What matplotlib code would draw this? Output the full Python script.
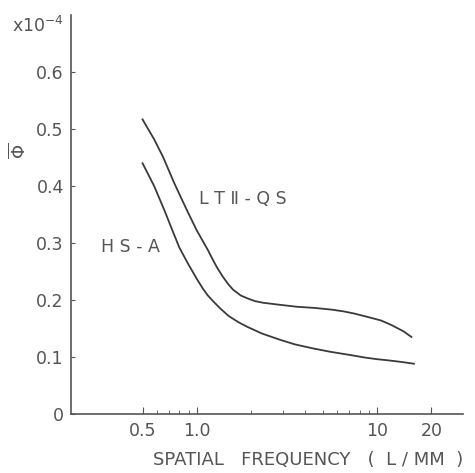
import matplotlib
matplotlib.use("Agg")
import matplotlib.pyplot as plt
from matplotlib.ticker import FixedLocator, NullFormatter

# (x in L/mm, y in units of 1e-4)
freq_lt = [0.5, 0.58, 0.65, 0.75, 0.88, 1.0, 1.15, 1.23, 1.3, 1.4, 1.5, 1.59,
           1.75, 1.9, 2.1, 2.34, 2.8, 3.6, 4.5, 5.6, 6.5, 7.5, 8.9, 10.5, 12.0, 14.0, 15.5]
phi_lt = [0.517, 0.482, 0.451, 0.405, 0.358, 0.322, 0.288, 0.270, 0.256, 0.240, 0.227, 0.218,
          0.208, 0.203, 0.198, 0.195, 0.192, 0.188, 0.186, 0.183, 0.180, 0.176, 0.170, 0.164, 0.156, 0.145, 0.135]

freq_hs = [0.5, 0.58, 0.66, 0.72, 0.8, 0.9, 1.0, 1.08, 1.15, 1.23, 1.35, 1.5, 1.7, 1.9,
           2.3, 2.9, 3.5, 4.4, 5.5, 7.2, 8.5, 10.0, 11.5, 13.0, 14.5, 16.0]
phi_hs = [0.44, 0.40, 0.358, 0.328, 0.292, 0.262, 0.237, 0.220, 0.208, 0.198, 0.185, 0.172, 0.161, 0.153,
          0.141, 0.130, 0.122, 0.115, 0.109, 0.103, 0.099, 0.096, 0.094, 0.092, 0.090, 0.088]

y_ticks = [0, 0.1, 0.2, 0.3, 0.4, 0.5, 0.6]
y_labels = ["0", "0.1", "0.2", "0.3", "0.4", "0.5", "0.6"]
x_ticks = [0.5, 1.0, 10, 20]
x_labels = ["0.5", "1.0", "10", "20"]
x_minor = [0.6, 0.7, 0.8, 0.9, 2, 3, 4, 5, 6, 7, 8, 9]

ink = "#3a3a3a"
txt = "#555555"

fig = plt.figure(figsize=(4.75, 4.73), dpi=100)
ax = fig.add_axes([0.149, 0.125, 0.826, 0.843])

ax.plot(freq_lt, phi_lt, color=ink, lw=1.3)
ax.plot(freq_hs, phi_hs, color=ink, lw=1.3)

ax.set_xscale("log")
ax.set_xlim(0.2, 30)
ax.set_ylim(0, 0.7)

for s in ("top", "right"):
    ax.spines[s].set_visible(False)
for s in ("left", "bottom"):
    ax.spines[s].set_color("#555555")
    ax.spines[s].set_linewidth(1.2)

ax.xaxis.set_major_locator(FixedLocator(x_ticks))
ax.set_xticklabels(x_labels)
ax.xaxis.set_minor_locator(FixedLocator(x_minor))
ax.xaxis.set_minor_formatter(NullFormatter())
ax.set_yticks(y_ticks)
ax.set_yticklabels(y_labels)

ax.tick_params(axis="both", which="both", direction="in", colors="#555555",
               labelcolor=txt, labelsize=12.5)
ax.tick_params(axis="x", which="major", length=5, pad=6)
ax.tick_params(axis="x", which="minor", length=3)
ax.tick_params(axis="y", which="major", length=3, pad=5)

ax.text(0.295, 0.293, "H S - A", color=txt, fontsize=12.5, va="center", ha="left")
ax.text(1.03, 0.377, "L T \u2161 - Q S", color=txt, fontsize=12.5, va="center", ha="left")

ax.set_ylabel(r"$\overline{\Phi}$", color=txt, fontsize=13)
ax.yaxis.set_label_coords(-0.105, 0.66)

fig.text(0.975, 0.008, "SPATIAL   FREQUENCY   (  L / MM  )", color=txt, fontsize=13,
         ha="right", va="bottom")
fig.text(0.025, 0.945, r"x10$^{-4}$", color=txt, fontsize=12.5, ha="left", va="center")

fig.savefig("out.png", dpi=100)
